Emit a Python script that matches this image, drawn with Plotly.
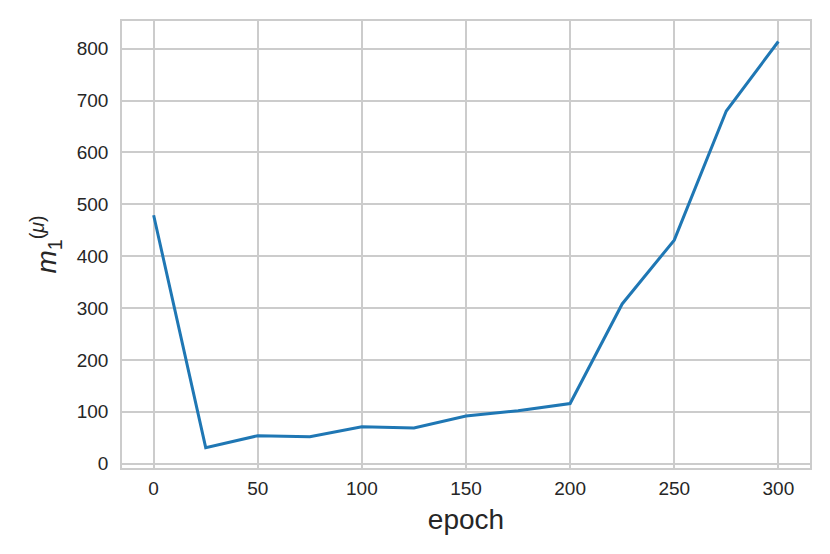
import plotly.graph_objects as go

epochs = [0, 25, 50, 75, 100, 125, 150, 175, 200, 225, 250, 275, 300]
m1_mu = [479, 31, 54, 52, 71, 69, 92, 102, 116, 308, 431, 680, 814]

x_ticks = [0, 50, 100, 150, 200, 250, 300]
y_ticks = [0, 100, 200, 300, 400, 500, 600, 700, 800]

grid = "#cccccc"
txt = "#262626"
font_family = "Liberation Sans, Arial, sans-serif"

fig = go.Figure()
fig.add_trace(go.Scatter(x=epochs, y=m1_mu, mode="lines",
                         line=dict(color="#1f77b4", width=3),
                         showlegend=False))

fig.update_layout(
    width=822, height=546,
    margin=dict(l=114, r=20, t=13, b=86),
    paper_bgcolor="white", plot_bgcolor="white",
    font=dict(family=font_family, color=txt, size=18.5),
)
fig.update_xaxes(
    range=[-15.2, 315.2], tickvals=x_ticks, ticktext=[str(v) for v in x_ticks],
    showgrid=True, gridcolor=grid, gridwidth=1.5,
    showline=True, linecolor=grid, linewidth=1.5, mirror=True,
    zeroline=False, ticks="", ticklabelstandoff=2,
    tickfont=dict(size=19, color=txt),
    title=dict(text="epoch", font=dict(size=28, color=txt), standoff=12),
)
fig.update_yaxes(
    range=[-8.3, 853.5], tickvals=y_ticks, ticktext=[str(v) for v in y_ticks],
    showgrid=True, gridcolor=grid, gridwidth=1.5,
    showline=True, linecolor=grid, linewidth=1.5, mirror=True,
    zeroline=False, ticks="", ticklabelstandoff=8,
    tickfont=dict(size=19, color=txt),
    title=dict(text="<i>m</i><sub>1</sub><sup>(<i>μ</i>)</sup>",
               font=dict(size=28, color=txt), standoff=12),
)

fig.write_html("out.html")
